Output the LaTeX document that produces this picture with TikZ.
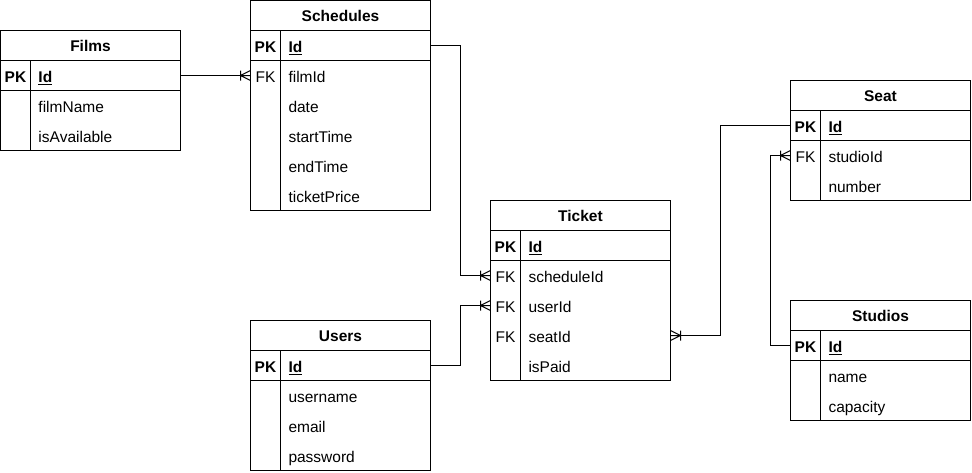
\documentclass[tikz,border=0pt]{standalone}
\usepackage{fontspec}
\setmainfont{Liberation Sans}
\usetikzlibrary{positioning}

% crow's foot with bar (one or many)
\pgfarrowsdeclare{crow}{crow}
{
  \pgfarrowsleftextend{-10.5pt}
  \pgfarrowsrightextend{0pt}
}
{
  \pgfsetdash{}{0pt}
  \pgfpathmoveto{\pgfqpoint{0pt}{5pt}}
  \pgfpathlineto{\pgfqpoint{-10pt}{0pt}}
  \pgfpathlineto{\pgfqpoint{0pt}{-5pt}}
  \pgfpathmoveto{\pgfqpoint{-10pt}{0pt}}
  \pgfpathlineto{\pgfqpoint{0pt}{0pt}}
  \pgfpathmoveto{\pgfqpoint{-10pt}{5pt}}
  \pgfpathlineto{\pgfqpoint{-10pt}{-5pt}}
  \pgfusepathqstroke
}

\tikzset{
  title/.style = {draw, minimum width=180pt, minimum height=30pt, inner sep=0pt,
    outer sep=0pt, text height=12pt, text depth=0pt,
    font=\fontsize{15.5}{18}\selectfont\bfseries},
  row/.style = {minimum width=180pt, minimum height=30pt, inner sep=0pt, outer sep=0pt,
    text width=180pt, text height=14pt, text depth=0pt,
    font=\fontsize{15.5}{18}\selectfont,
    execute at begin node={\hspace*{38pt}}},
  pk/.style = {xshift=-75pt, inner sep=0pt, text height=14pt, text depth=0pt,
    font=\fontsize{15.5}{18}\selectfont\bfseries},
  fk/.style = {xshift=-75pt, inner sep=0pt, text height=14pt, text depth=0pt,
    font=\fontsize{15.5}{18}\selectfont}
}

\begin{document}
\begin{tikzpicture}[x=1pt, y=-1pt, line width=1pt]
\useasboundingbox (-0.5,-0.5) rectangle (971.5,471.5);

% Films
\node [title] (films) at (90,45) {Films};
\node [row, below=0pt of films, label={[pk]center:PK}] (films-id) {\textbf{\underline{Id}}};
\node [row, below=0pt of films-id] (films-name) {filmName};
\node [row, below=0pt of films-name] (films-avail) {isAvailable};

% Schedules
\node [title] (sch) at (340,15) {Schedules};
\node [row, below=0pt of sch, label={[pk]center:PK}] (sch-id) {\textbf{\underline{Id}}};
\node [row, below=0pt of sch-id, label={[fk]center:FK}] (sch-filmId) {filmId};
\node [row, below=0pt of sch-filmId] (sch-date) {date};
\node [row, below=0pt of sch-date] (sch-start) {startTime};
\node [row, below=0pt of sch-start] (sch-end) {endTime};
\node [row, below=0pt of sch-end] (sch-price) {ticketPrice};

% Ticket
\node [title] (tkt) at (580,215) {Ticket};
\node [row, below=0pt of tkt, label={[pk]center:PK}] (tkt-id) {\textbf{\underline{Id}}};
\node [row, below=0pt of tkt-id, label={[fk]center:FK}] (tkt-schedId) {scheduleId};
\node [row, below=0pt of tkt-schedId, label={[fk]center:FK}] (tkt-userId) {userId};
\node [row, below=0pt of tkt-userId, label={[fk]center:FK}] (tkt-seatId) {seatId};
\node [row, below=0pt of tkt-seatId] (tkt-paid) {isPaid};

% Users
\node [title] (users) at (340,335) {Users};
\node [row, below=0pt of users, label={[pk]center:PK}] (users-id) {\textbf{\underline{Id}}};
\node [row, below=0pt of users-id] (users-name) {username};
\node [row, below=0pt of users-name] (users-email) {email};
\node [row, below=0pt of users-email] (users-pass) {password};

% Seat
\node [title] (seat) at (880,95) {Seat};
\node [row, below=0pt of seat, label={[pk]center:PK}] (seat-id) {\textbf{\underline{Id}}};
\node [row, below=0pt of seat-id, label={[fk]center:FK}] (seat-studioId) {studioId};
\node [row, below=0pt of seat-studioId] (seat-number) {number};

% Studios
\node [title] (studios) at (880,315) {Studios};
\node [row, below=0pt of studios, label={[pk]center:PK}] (studios-id) {\textbf{\underline{Id}}};
\node [row, below=0pt of studios-id] (studios-name) {name};
\node [row, below=0pt of studios-name] (studios-cap) {capacity};

% table outlines
\foreach \t/\last in {films/films-avail, sch/sch-price, tkt/tkt-paid,
                      users/users-pass, seat/seat-number, studios/studios-cap} {
  \draw (\t.south west) rectangle (\last.south east);
  \draw (\t-id.south west) -- (\t-id.south east);
  \draw ([xshift=30pt]\t-id.north west) -- ([xshift=30pt]\last.south west);
}

% relations
\draw [-crow] (films-id.east) -- (sch-filmId.west);
\draw [-crow] (sch-id.east) -- ++(30,0) |- (tkt-schedId.west);
\draw [-crow] (users-id.east) -- ++(30,0) |- (tkt-userId.west);
\draw [-crow] (seat-id.west) -- ++(-70,0) |- (tkt-seatId.east);
\draw [-crow] (studios-id.west) -- ++(-20,0) |- (seat-studioId.west);

\end{tikzpicture}
\end{document}
